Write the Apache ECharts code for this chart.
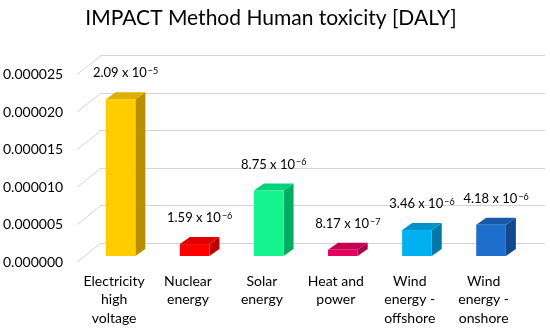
<!DOCTYPE html>
<html>
<head>
<meta charset="utf-8">
<script src="https://cdn.jsdelivr.net/npm/echarts@6/dist/echarts.min.js"></script>
<style>html,body{margin:0;padding:0;background:#fff}#c{width:550px;height:330px}</style>
</head>
<body>
<div id="c"></div>
<script>
var categories = ['Electricity\nhigh\nvoltage', 'Nuclear\nenergy', 'Solar\nenergy', 'Heat and\npower', 'Wind\nenergy -\noffshore', 'Wind\nenergy -\nonshore'];
var values = [2.09e-5, 1.59e-6, 8.75e-6, 8.17e-7, 3.46e-6, 4.18e-6];
var yTicks = [0, 0.000005, 0.00001, 0.000015, 0.00002, 0.000025];
var frontColors = ['#FFCC00', '#FF0000', '#14F590', '#E6005E', '#00B0F0', '#1E6FCC'];
var topColors   = ['#DDB000', '#E00000', '#00D27C', '#C80052', '#0092CA', '#1959AA'];
var sideColors  = ['#B89000', '#C00000', '#00AE62', '#A80044', '#0078A8', '#14488C'];

var FONT = 'Lato, "Liberation Sans", sans-serif';
var DEPTH_X = 10, DEPTH_Y = -7;     // bar depth
var WALL_X = 24, WALL_Y = -19;      // front plane to back wall

function labelText(v) {
  var e = Math.floor(Math.log10(v));
  var m = (v / Math.pow(10, e)).toFixed(2);
  return '{m|' + m + ' x 10}{e|\u2212' + Math.abs(e) + '}';
}

var chart = echarts.init(document.getElementById('c'), null, {renderer: 'canvas'});
chart.setOption({
  animation: false,
  title: {
    text: 'IMPACT Method Human toxicity [DALY]',
    left: 266, top: 3, textAlign: 'center',
    textStyle: {fontFamily: FONT, fontSize: 21, fontWeight: 'normal', color: '#000'}
  },
  grid: [
    {left: 100, right: 5, top: 55.5, bottom: 87},       // back wall
    {left: 76, right: 29.4, top: 74.5, bottom: 68},     // front plane
    {left: 83.5, right: 21.9, top: 68.5, bottom: 74}    // bar fronts
  ],
  xAxis: [
    {gridIndex: 0, type: 'category', data: categories, show: false},
    {gridIndex: 1, type: 'category', data: categories,
      axisLine: {show: false}, axisTick: {show: false},
      axisLabel: {margin: 10, fontFamily: FONT, fontSize: 14, color: '#000', lineHeight: 18.5, interval: 0}},
    {gridIndex: 2, type: 'category', data: categories, show: false}
  ],
  yAxis: [
    {gridIndex: 0, type: 'value', min: 0, max: 0.000025, interval: 0.000005,
      axisLabel: {show: false}, axisLine: {show: false}, axisTick: {show: false},
      splitLine: {lineStyle: {color: '#D4D4D4', width: 1}}},
    {gridIndex: 1, type: 'value', min: 0, max: 0.000025, interval: 0.000005,
      axisLine: {show: false}, axisTick: {show: false}, splitLine: {show: false},
      axisLabel: {margin: 14, fontFamily: FONT, fontSize: 14, color: '#000',
        formatter: function (v) { return v.toFixed(6); }}},
    {gridIndex: 2, type: 'value', min: 0, max: 0.000025, interval: 0.000005, show: false}
  ],
  series: [
    {
      type: 'custom', xAxisIndex: 1, yAxisIndex: 1,
      data: yTicks.map(function (t) { return [0, t]; }),
      renderItem: function (params, api) {
        var p = api.coord([0, api.value(1)]);
        var bw = api.size([1, 0])[0];
        var x0 = p[0] - bw / 2;
        return {type: 'line', shape: {x1: x0, y1: p[1], x2: x0 + WALL_X, y2: p[1] + WALL_Y},
          style: {stroke: '#D4D4D4', lineWidth: 1}};
      },
      silent: true, z: 1
    },
    {
      type: 'custom', xAxisIndex: 2, yAxisIndex: 2,
      data: values.map(function (v, i) { return [i, v]; }),
      renderItem: function (params, api) {
        var i = api.value(0), v = api.value(1);
        var pt = api.coord([i, v]);
        var p0 = api.coord([i, 0]);
        var w = api.size([1, 0])[0] * 0.4;
        var xl = pt[0] - w / 2, xr = pt[0] + w / 2;
        var yt = pt[1], yb = p0[1];
        return {
          type: 'group',
          children: [
            {type: 'polygon', shape: {points: [[xr, yt], [xr + DEPTH_X, yt + DEPTH_Y], [xr + DEPTH_X, yb + DEPTH_Y], [xr, yb]]},
              style: {fill: sideColors[i]}},
            {type: 'polygon', shape: {points: [[xl, yt], [xl + DEPTH_X, yt + DEPTH_Y], [xr + DEPTH_X, yt + DEPTH_Y], [xr, yt]]},
              style: {fill: topColors[i]}},
            {type: 'rect', shape: {x: xl, y: yt, width: w, height: yb - yt},
              style: {fill: frontColors[i]}},
            {type: 'text', x: pt[0] + DEPTH_X / 2, y: yt + DEPTH_Y - 19,
              style: {text: labelText(v), align: 'center', verticalAlign: 'middle', fill: '#000',
                rich: {
                  m: {fontFamily: FONT, fontSize: 13, fill: '#000'},
                  e: {fontFamily: FONT, fontSize: 9, fill: '#000', verticalAlign: 'top', padding: [0, 0, 2, 1]}
                }}}
          ]
        };
      },
      z: 2
    }
  ]
});
</script>
</body>
</html>
